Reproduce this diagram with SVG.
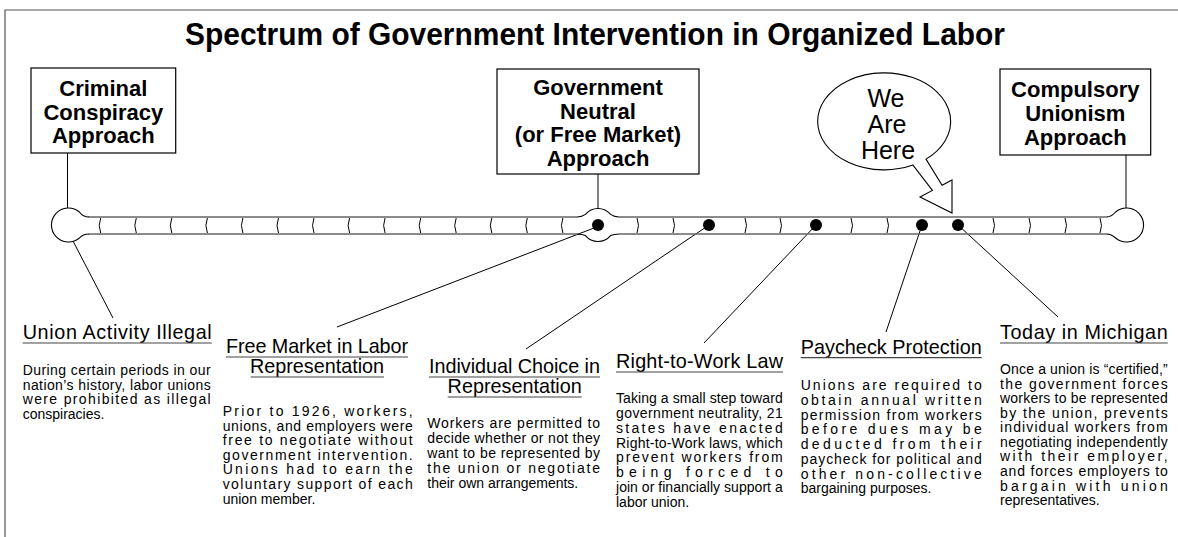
<svg xmlns="http://www.w3.org/2000/svg" width="1178" height="537" viewBox="0 0 1178 537">
<style>
text{font-family:"Liberation Sans",Arial,sans-serif;fill:#000}
.t{font-size:32px;font-weight:bold}
.bx{font-size:22px;font-weight:bold;text-anchor:middle}
.bub{font-size:25px;text-anchor:middle}
.h{font-size:19.8px}
.hc{font-size:19.8px;text-anchor:middle}
.b{font-size:14px}
.box{fill:#fff;stroke:#000;stroke-width:1.2}
.ul{stroke:#444;stroke-width:1.2}
.ln{stroke:#000;stroke-width:1;fill:none}
.tube{stroke:#666;stroke-width:1.6;fill:none}
.circ{stroke:#000;stroke-width:1.1;fill:#fff}
.dv{stroke:#000;stroke-width:1;fill:none}
.dot{fill:#000}
</style>
<rect width="1178" height="537" fill="#fff"/>
<path d="M5,537 V10 H1178" fill="none" stroke="#555" stroke-width="1.2"/>
<g id="title"><text class="t" x="595" y="45" text-anchor="middle" textLength="820" lengthAdjust="spacingAndGlyphs">Spectrum of Government Intervention in Organized Labor</text></g>

<g id="connectors">
<line class="ln" x1="67.5" y1="153" x2="67.5" y2="208"/>
<line class="ln" x1="598" y1="174" x2="598" y2="208.5"/>
<line class="ln" x1="1126" y1="155" x2="1126" y2="208"/>
<line class="ln" x1="73" y1="241" x2="113" y2="318"/>
<line class="ln" x1="594" y1="228" x2="337" y2="327"/>
<line class="ln" x1="709" y1="225" x2="526" y2="349"/>
<line class="ln" x1="816" y1="225" x2="704" y2="343"/>
<line class="ln" x1="922" y1="225" x2="886" y2="332"/>
<line class="ln" x1="958" y1="225" x2="1058" y2="317"/>
</g>

<g id="timeline">
<path class="tube" d="M88,217 H577 M619,217 H1108 M88,234 H577 M619,234 H1108"/>
<path class="circ" d="M89,217 Q83,217 79.4,212 A17 17 0 1 0 79.4,238 Q83,234 89,234"/>
<path class="circ" d="M1107,217 Q1111,217 1115.6,212 A17 17 0 1 1 1115.6,238 Q1111,234 1107,234"/>
<path class="circ" style="fill:none" d="M577,217 Q582,217 585.4,214.4 A16.5 16.5 0 0 1 610.6,214.4 Q614,217 619,217 M577,234 Q582,234 585.4,235.6 A16.5 16.5 0 0 0 610.6,235.6 Q614,234 619,234"/>
<path class="dv" d="M100.7,218 q-3,7.5 0,15 M136.3,218 q-3,7.5 0,15 M171.8,218 q-3,7.5 0,15 M207.4,218 q-3,7.5 0,15 M242.9,218 q-3,7.5 0,15 M278.5,218 q-3,7.5 0,15 M314,218 q-3,7.5 0,15 M349.6,218 q-3,7.5 0,15 M385.1,218 q-3,7.5 0,15 M420.7,218 q-3,7.5 0,15 M456.2,218 q-3,7.5 0,15 M491.8,218 q-3,7.5 0,15 M527.3,218 q-3,7.5 0,15 M562.9,218 q-3,7.5 0,15"/>
<path class="dv" d="M637,218 q3,7.5 0,15 M673,218 q3,7.5 0,15 M745,218 q3,7.5 0,15 M780,218 q3,7.5 0,15 M851,218 q3,7.5 0,15 M887,218 q3,7.5 0,15 M993,218 q3,7.5 0,15 M1029,218 q3,7.5 0,15 M1065,218 q3,7.5 0,15 M1100,218 q3,7.5 0,15"/>
<circle class="dot" cx="598" cy="225" r="6"/>
<circle class="dot" cx="709" cy="225" r="6"/>
<circle class="dot" cx="816" cy="225" r="6"/>
<circle class="dot" cx="922" cy="225" r="6"/>
<circle class="dot" cx="958" cy="225" r="6"/>
</g>

<g id="box-criminal">
<rect class="box" x="31" y="68" width="144.7" height="85"/>
<text class="bx" x="103.3" y="96">Criminal</text>
<text class="bx" x="103.3" y="119.5">Conspiracy</text>
<text class="bx" x="103.3" y="143">Approach</text>
</g>
<g id="box-neutral">
<rect class="box" x="497" y="69" width="202" height="105"/>
<text class="bx" x="598" y="95">Government</text>
<text class="bx" x="598" y="118.5">Neutral</text>
<text class="bx" x="598" y="142">(or Free Market)</text>
<text class="bx" x="598" y="165.5">Approach</text>
</g>
<g id="box-compulsory">
<rect class="box" x="1000" y="69" width="150.7" height="86"/>
<text class="bx" x="1075.3" y="97">Compulsory</text>
<text class="bx" x="1075.3" y="121">Unionism</text>
<text class="bx" x="1075.3" y="145">Approach</text>
</g>
<g id="bubble">
<path d="M926,159.1 A66.5 48.5 0 1 0 913,165.1 L932.4,190.4 L920,197 L952,213 L952,180 L942.1,185.2 Z" fill="#fff" stroke="#000" stroke-width="1.1"/>
<text class="bub" x="886" y="107">We</text>
<text class="bub" x="887" y="133">Are</text>
<text class="bub" x="888" y="159">Here</text>
</g>

<g id="col-illegal">
<text class="h" x="22.7" y="339.3" textLength="189" lengthAdjust="spacing">Union Activity Illegal</text>
<line class="ul" x1="22.7" y1="343" x2="211.7" y2="343"/>
<text class="b" x="22.7" y="375" textLength="188" lengthAdjust="spacing">During certain periods in our</text>
<text class="b" x="22.7" y="389.5" textLength="188" lengthAdjust="spacing">nation’s history, labor unions</text>
<text class="b" x="22.7" y="404" textLength="188" lengthAdjust="spacing">were prohibited as illegal</text>
<text class="b" x="22.7" y="418.5">conspiracies.</text>
</g>
<g id="col-freemarket">
<text class="h" x="226" y="353.3" textLength="182" lengthAdjust="spacing">Free Market in Labor</text>
<line class="ul" x1="226" y1="357" x2="408" y2="357"/>
<text class="hc" x="317" y="373.3">Representation</text>
<line class="ul" x1="250.7" y1="377" x2="384" y2="377"/>
<text class="b" x="222.7" y="416" textLength="190" lengthAdjust="spacing">Prior to 1926, workers,</text>
<text class="b" x="222.7" y="430.6" textLength="190" lengthAdjust="spacing">unions, and employers were</text>
<text class="b" x="222.7" y="445.2" textLength="190" lengthAdjust="spacing">free to negotiate without</text>
<text class="b" x="222.7" y="459.8" textLength="190" lengthAdjust="spacing">government intervention.</text>
<text class="b" x="222.7" y="474.4" textLength="190" lengthAdjust="spacing">Unions had to earn the</text>
<text class="b" x="222.7" y="489" textLength="190" lengthAdjust="spacing">voluntary support of each</text>
<text class="b" x="222.7" y="503.6">union member.</text>
</g>
<g id="col-choice">
<text class="h" x="429" y="373.3" textLength="171" lengthAdjust="spacing">Individual Choice in</text>
<line class="ul" x1="429" y1="377" x2="600" y2="377"/>
<text class="hc" x="514.7" y="393.3">Representation</text>
<line class="ul" x1="447.7" y1="397" x2="581.7" y2="397"/>
<text class="b" x="427.3" y="428.3" textLength="172.7" lengthAdjust="spacing">Workers are permitted to</text>
<text class="b" x="427.3" y="443.1" textLength="172.7" lengthAdjust="spacing">decide whether or not they</text>
<text class="b" x="427.3" y="457.9" textLength="172.7" lengthAdjust="spacing">want to be represented by</text>
<text class="b" x="427.3" y="472.7" textLength="172.7" lengthAdjust="spacing">the union or negotiate</text>
<text class="b" x="427.3" y="487.5">their own arrangements.</text>
</g>
<g id="col-rtw">
<text class="h" x="616" y="368.3" textLength="167" lengthAdjust="spacing">Right-to-Work Law</text>
<line class="ul" x1="616" y1="372" x2="783" y2="372"/>
<text class="b" x="616" y="403.3" textLength="166.7" lengthAdjust="spacing">Taking a small step toward</text>
<text class="b" x="616" y="418.1" textLength="166.7" lengthAdjust="spacing">government neutrality, 21</text>
<text class="b" x="616" y="432.8" textLength="166.7" lengthAdjust="spacing">states have enacted</text>
<text class="b" x="616" y="447.6" textLength="166.7" lengthAdjust="spacing">Right-to-Work laws, which</text>
<text class="b" x="616" y="462.3" textLength="166.7" lengthAdjust="spacing">prevent workers from</text>
<text class="b" x="616" y="477.1" textLength="166.7" lengthAdjust="spacing">being forced to</text>
<text class="b" x="616" y="491.9" textLength="166.7" lengthAdjust="spacing">join or financially support a</text>
<text class="b" x="616" y="506.6">labor union.</text>
</g>
<g id="col-paycheck">
<text class="h" x="800.7" y="354" textLength="181" lengthAdjust="spacing">Paycheck Protection</text>
<line class="ul" x1="800.7" y1="357.7" x2="981.7" y2="357.7"/>
<text class="b" x="800.7" y="390" textLength="181" lengthAdjust="spacing">Unions are required to</text>
<text class="b" x="800.7" y="404.8" textLength="181" lengthAdjust="spacing">obtain annual written</text>
<text class="b" x="800.7" y="419.5" textLength="181" lengthAdjust="spacing">permission from workers</text>
<text class="b" x="800.7" y="434.3" textLength="181" lengthAdjust="spacing">before dues may be</text>
<text class="b" x="800.7" y="449" textLength="181" lengthAdjust="spacing">deducted from their</text>
<text class="b" x="800.7" y="463.8" textLength="181" lengthAdjust="spacing">paycheck for political and</text>
<text class="b" x="800.7" y="478.6" textLength="181" lengthAdjust="spacing">other non-collective</text>
<text class="b" x="800.7" y="493.3">bargaining purposes.</text>
</g>
<g id="col-michigan">
<text class="h" x="1000" y="339.3" textLength="167.7" lengthAdjust="spacing">Today in Michigan</text>
<line class="ul" x1="1000" y1="343" x2="1167.7" y2="343"/>
<text class="b" x="1000" y="374" textLength="167.7" lengthAdjust="spacing">Once a union is “certified,”</text>
<text class="b" x="1000" y="388.6" textLength="167.7" lengthAdjust="spacing">the government forces</text>
<text class="b" x="1000" y="403.1" textLength="167.7" lengthAdjust="spacing">workers to be represented</text>
<text class="b" x="1000" y="417.7" textLength="167.7" lengthAdjust="spacing">by the union, prevents</text>
<text class="b" x="1000" y="432.2" textLength="167.7" lengthAdjust="spacing">individual workers from</text>
<text class="b" x="1000" y="446.8" textLength="167.7" lengthAdjust="spacing">negotiating independently</text>
<text class="b" x="1000" y="461.4" textLength="167.7" lengthAdjust="spacing">with their employer,</text>
<text class="b" x="1000" y="475.9" textLength="167.7" lengthAdjust="spacing">and forces employers to</text>
<text class="b" x="1000" y="490.5" textLength="167.7" lengthAdjust="spacing">bargain with union</text>
<text class="b" x="1000" y="505">representatives.</text>
</g>
</svg>
